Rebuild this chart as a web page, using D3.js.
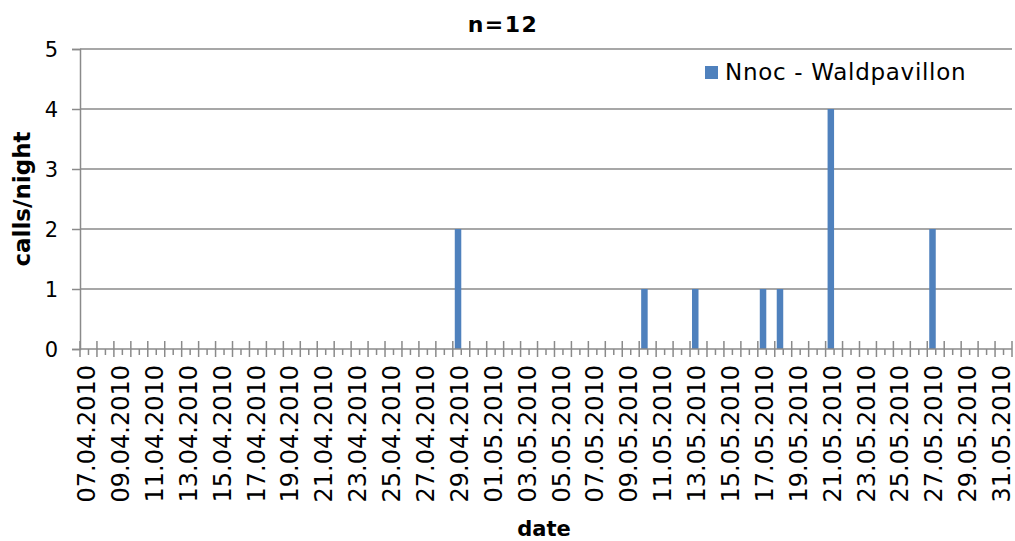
<!DOCTYPE html>
<html>
<head>
<meta charset="utf-8">
<script src="https://cdn.jsdelivr.net/npm/d3@7"></script>
<style>
  html, body { margin: 0; padding: 0; background: #fff; }
  svg { display: block; font-family: "DejaVu Sans", Verdana, sans-serif; }
</style>
</head>
<body>
<svg id="chart" width="1015" height="541"></svg>
<script>
// ---- data ----
const categories = [
  "07.04.2010","08.04.2010","09.04.2010","10.04.2010","11.04.2010","12.04.2010","13.04.2010",
  "14.04.2010","15.04.2010","16.04.2010","17.04.2010","18.04.2010","19.04.2010","20.04.2010",
  "21.04.2010","22.04.2010","23.04.2010","24.04.2010","25.04.2010","26.04.2010","27.04.2010",
  "28.04.2010","29.04.2010","30.04.2010","01.05.2010","02.05.2010","03.05.2010","04.05.2010",
  "05.05.2010","06.05.2010","07.05.2010","08.05.2010","09.05.2010","10.05.2010","11.05.2010",
  "12.05.2010","13.05.2010","14.05.2010","15.05.2010","16.05.2010","17.05.2010","18.05.2010",
  "19.05.2010","20.05.2010","21.05.2010","22.05.2010","23.05.2010","24.05.2010","25.05.2010",
  "26.05.2010","27.05.2010","28.05.2010","29.05.2010","30.05.2010","31.05.2010"
];
const barDates  = ["29.04.2010","10.05.2010","13.05.2010","17.05.2010","18.05.2010","21.05.2010","27.05.2010"];
const barValues = [2, 1, 1, 1, 1, 4, 2];
const tickLabels = categories.filter((d, i) => i % 2 === 0);
const yTicks = [0, 1, 2, 3, 4, 5];
const seriesName = "Nnoc - Waldpavillon";
const titleText = "n=12";
const xTitle = "date";
const yTitle = "calls/night";

// ---- layout ----
const L = 80, R = 1012, T = 49, B = 349;
const barColor = "#4F81BD";
const gridColor = "#8a8a8a";

const svg = d3.select("#chart");
const x = d3.scaleBand().domain(categories).range([L, R]).padding(0);
const y = d3.scaleLinear().domain([0, 5]).range([B, T]);
const bw = x.bandwidth();

// gridlines
svg.append("g").selectAll("line").data(yTicks.filter(d => d > 0)).join("line")
  .attr("x1", L).attr("x2", R)
  .attr("y1", d => y(d)).attr("y2", d => y(d))
  .attr("stroke", gridColor).attr("stroke-width", 1.5);

// y axis
const yAxis = svg.append("g").attr("transform", `translate(${L},0)`)
  .call(d3.axisLeft(y).tickValues(yTicks).tickSize(8).tickPadding(14).tickFormat(d3.format("d")));
yAxis.select(".domain").attr("stroke", gridColor).attr("stroke-width", 1.5);
yAxis.selectAll(".tick line").attr("stroke", gridColor).attr("stroke-width", 1.5);
yAxis.selectAll(".tick text").attr("font-size", 21).attr("fill", "#000")
  .attr("font-family", "DejaVu Sans").attr("dy", "0.36em");

// bars
svg.append("g").selectAll("rect").data(barDates.map((d, i) => ({ d, v: barValues[i] }))).join("rect")
  .attr("x", d => x(d.d) + bw / 2 - 6.5)
  .attr("width", 6.5)
  .attr("y", d => y(d.v))
  .attr("height", d => y(0) - y(d.v))
  .attr("fill", barColor);

// x axis line
svg.append("line").attr("x1", L).attr("x2", R).attr("y1", B).attr("y2", B)
  .attr("stroke", gridColor).attr("stroke-width", 1.5);

// major ticks at category boundaries (cross)
const bounds = categories.map(c => x(c)).concat([x(categories[categories.length - 1]) + bw]);
svg.append("g").selectAll("line").data(bounds).join("line")
  .attr("x1", d => d).attr("x2", d => d)
  .attr("y1", B - 8).attr("y2", B + 8)
  .attr("stroke", gridColor).attr("stroke-width", 1.5);
// minor ticks at category centres (outside)
svg.append("g").selectAll("line").data(categories).join("line")
  .attr("x1", d => x(d) + bw / 2).attr("x2", d => x(d) + bw / 2)
  .attr("y1", B).attr("y2", B + 6)
  .attr("stroke", gridColor).attr("stroke-width", 1.5);

// x tick labels
svg.append("g").selectAll("text").data(tickLabels).join("text")
  .attr("transform", d => `translate(${x(d) + bw / 2 - 2 + 8.6},365) rotate(-90)`)
  .attr("text-anchor", "end")
  .attr("font-size", 24)
  .attr("fill", "#000")
  .text(d => d);

// title
svg.append("text").attr("x", 503).attr("y", 32).attr("text-anchor", "middle")
  .attr("font-size", 22).attr("font-weight", "bold").attr("letter-spacing", 1.5).text(titleText);

// axis titles
svg.append("text").attr("x", 544).attr("y", 536).attr("text-anchor", "middle")
  .attr("font-size", 21).attr("font-weight", "bold").text(xTitle);
svg.append("text").attr("transform", "translate(30,199) rotate(-90)").attr("text-anchor", "middle")
  .attr("font-size", 23).attr("font-weight", "bold").text(yTitle);

// legend
svg.append("rect").attr("x", 705).attr("y", 66).attr("width", 13).attr("height", 13).attr("fill", barColor);
svg.append("text").attr("x", 725).attr("y", 80).attr("font-size", 23).attr("letter-spacing", 0.7)
  .attr("fill", "#000").text(seriesName);
</script>
</body>
</html>
